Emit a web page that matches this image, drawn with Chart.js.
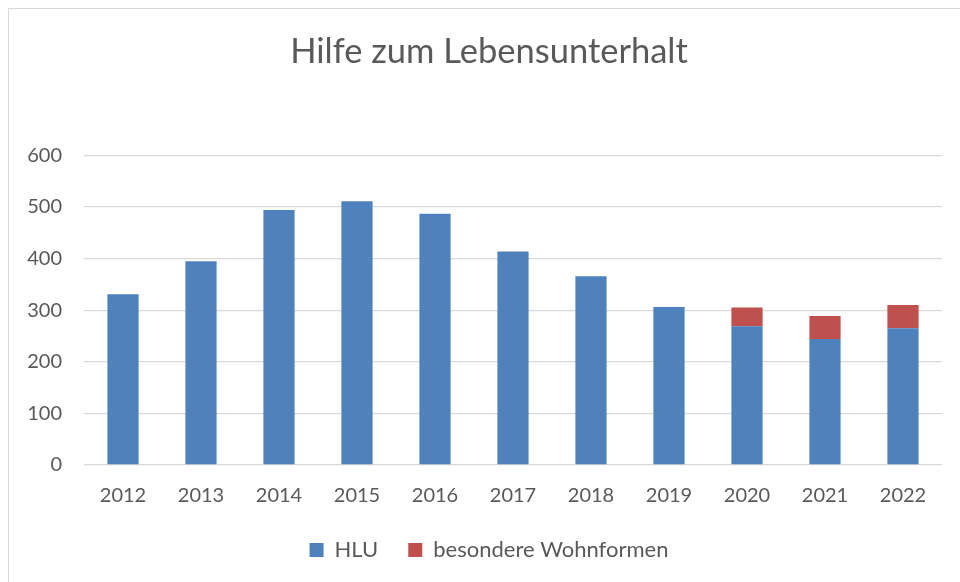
<!DOCTYPE html>
<html>
<head>
<meta charset="utf-8">
<script src="https://cdn.jsdelivr.net/npm/chart.js@4"></script>
<style>
  html, body { margin: 0; padding: 0; background: #fff; }
  #rahmen {
    position: absolute; left: 8px; top: 8px; width: 1000px; height: 1000px;
    border: 1px solid #d9d9d9; box-sizing: border-box;
  }
  #wrap { position: absolute; left: 0; top: 0; width: 960px; height: 582px; }
</style>
</head>
<body>
<div id="rahmen"></div>
<div id="wrap"><canvas id="grafik"></canvas></div>
<script>
// Daten
const jahre = ['2012', '2013', '2014', '2015', '2016', '2017', '2018', '2019', '2020', '2021', '2022'];
const hlu = [331, 395, 494, 511, 487, 414, 366, 306, 269, 244, 265];
const wohnformen = [null, null, null, null, null, null, null, null, 36, 45, 45];
const yTicks = [0, 100, 200, 300, 400, 500, 600];

const grau = '#595959';
const schrift = 'Lato, "Open Sans", sans-serif';

Chart.defaults.font.family = schrift;
Chart.defaults.color = grau;

const ctx = document.getElementById('grafik').getContext('2d');
new Chart(ctx, {
    type: 'bar',
    data: {
        labels: jahre,
        datasets: [
            { label: 'HLU', data: hlu, backgroundColor: '#4F81BD', categoryPercentage: 1, barPercentage: 0.4 },
            { label: 'besondere Wohnformen', data: wohnformen, backgroundColor: '#C0504D', categoryPercentage: 1, barPercentage: 0.4 }
        ]
    },
    options: {
        responsive: true,
        maintainAspectRatio: false,
        animation: false,
        layout: { padding: { left: 24, right: 6, top: 0, bottom: 11 } },
        plugins: {
            title: {
                display: true,
                text: 'Hilfe zum Lebensunterhalt',
                color: grau,
                font: { size: 34.5, weight: 'normal', family: schrift },
                padding: { top: 31, bottom: 83 }
            },
            legend: {
                position: 'bottom',
                labels: {
                    boxWidth: 14, boxHeight: 14,
                    padding: 30,
                    color: grau,
                    font: { size: 22 }
                }
            },
            tooltip: { enabled: false }
        },
        scales: {
            x: {
                stacked: true,
                grid: { display: false },
                border: { display: false },
                ticks: { font: { size: 20 }, color: grau, padding: 11 },
                afterFit: s => { s.height = 44; }
            },
            y: {
                stacked: true,
                min: 0, max: 600,
                afterBuildTicks: s => { s.ticks = yTicks.map(v => ({ value: v })); },
                grid: { color: '#d9d9d9', lineWidth: 1.3, drawTicks: false },
                border: { display: false },
                ticks: { font: { size: 20 }, color: grau, padding: 22 },
                afterFit: s => { s.width = 60; }
            },
            // leere Achse rechts, nur als Abstand, damit Titel/Legende mittig bleiben
            rechts: {
                type: 'linear',
                position: 'right',
                grid: { display: false },
                border: { display: false },
                ticks: { display: false },
                afterFit: s => { s.width = 12; }
            }
        }
    }
});
</script>
</body>
</html>
